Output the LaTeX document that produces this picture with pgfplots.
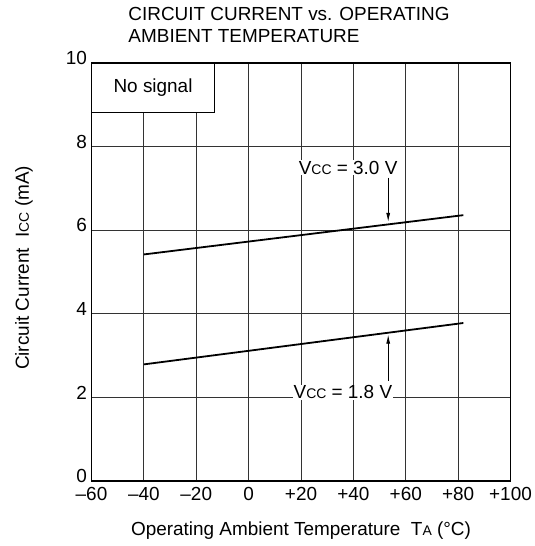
\documentclass[border=0pt]{standalone}
\usepackage{pgfplots}
\pgfplotsset{compat=1.18}
\usetikzlibrary{arrows.meta}
\usepackage{fontspec}
\setmainfont{Liberation Sans}
\newcommand{\chfont}{\fontsize{19}{21.7}\selectfont}
\newcommand{\sub}[1]{{\fontsize{14}{14}\selectfont #1}}

\begin{document}
\begin{tikzpicture}
\useasboundingbox (-91.5bp,-65bp) rectangle (443.5bp,481bp);
\begin{axis}[
    at={(0,0)}, anchor=south west,
    scale only axis,
    width=419bp, height=418bp,
    xmin=-60, xmax=100, ymin=0, ymax=10,
    xtick={-60,-40,...,100},
    xticklabels={--60,--40,--20,0,+20,+40,+60,+80,+100},
    ytick={0,2,...,10},
    major tick length=0pt,
    grid=major,
    grid style={black!80, line width=0.8pt},
    axis line style={line width=1.8pt},
    tick label style={font=\chfont},
    /pgf/number format/assume math mode=true,
    xticklabel style={yshift=-3bp},
    yticklabel style={xshift=-1bp, yshift=5bp},
    xlabel={Operating Ambient Temperature\ \ T\sub{A} (°C)},
    ylabel={Circuit Current\ \ I\sub{CC} (mA)},
    label style={font=\chfont},
    xlabel style={at={(axis description cs:0.5,0)}, anchor=center, yshift=-50bp},
    ylabel style={at={(axis description cs:-0.161,0.51)}, anchor=center},
    title={\parbox[b]{340bp}{\raggedright CIRCUIT CURRENT vs. OPERATING\\AMBIENT TEMPERATURE}},
    title style={font=\chfont, inner sep=0pt, anchor=base west, at={(axis description cs:0.0878,1)}, yshift=14.5bp},
    clip=false,
]
\addplot[line width=1.8pt, black] coordinates {(-40,5.42) (82,6.36)};
\addplot[line width=1.8pt, black] coordinates {(-40,2.79) (82,3.78)};

\draw[fill=white, line width=0.8pt] (axis cs:-60,10) rectangle (axis cs:-13,8.81);
\node[font=\chfont] at (axis cs:-36.5,9.4) {No signal};

\node[font=\chfont, fill=white, inner sep=1bp] at (axis cs:38,7.5) {V\sub{CC} = 3.0 V};
\draw[-{Latex[length=9bp,width=4bp]}, line width=0.8pt] (axis cs:53.3,7.26) -- (axis cs:53.3,6.2);

\node[font=\chfont, fill=white, inner sep=1bp] at (axis cs:36,2.12) {V\sub{CC} = 1.8 V};
\draw[-{Latex[length=9bp,width=4bp]}, line width=0.8pt] (axis cs:53.3,2.4) -- (axis cs:53.3,3.5);
\end{axis}
\end{tikzpicture}
\end{document}
